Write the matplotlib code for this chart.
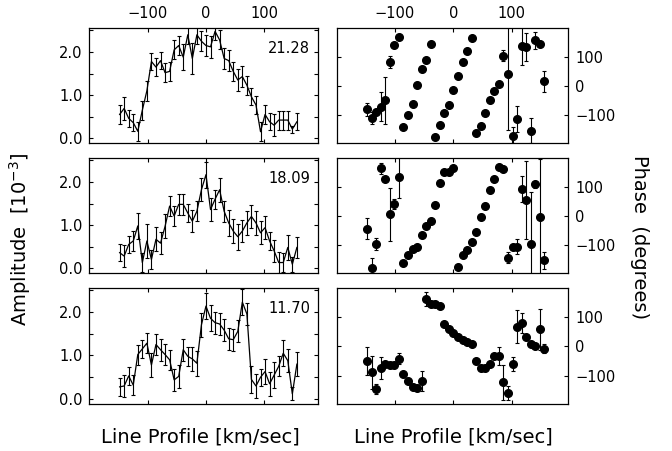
import matplotlib
matplotlib.use("Agg")
import matplotlib.pyplot as plt
from matplotlib.ticker import MultipleLocator, FixedLocator

plt.rcParams['font.family'] = ['DejaVu Sans']

velocity = [-148.0, -140.2, -132.4, -124.6, -116.8, -109.0, -101.2, -93.4, -85.6, -77.8,
            -70.0, -62.2, -54.4, -46.6, -38.8, -31.0, -23.2, -15.4, -7.6, 0.2,
            8.0, 15.8, 23.6, 31.4, 39.2, 47.0, 54.8, 62.6, 70.4, 78.2,
            86.0, 93.8, 101.6, 109.4, 117.2, 125.0, 132.8, 140.6, 148.4, 156.2]

frequencies = ["21.28", "18.09", "11.70"]

amp_2128 = [0.55, 0.69, 0.46, 0.36, 0.16, 0.65, 1.10, 1.78, 1.65, 1.80,
            1.52, 1.55, 2.05, 2.15, 1.88, 2.40, 1.85, 2.40, 2.25, 2.15,
            2.12, 2.48, 2.28, 1.85, 1.80, 1.55, 1.35, 1.43, 1.23, 0.96,
            0.77, 0.15, 0.55, 0.38, 0.30, 0.42, 0.42, 0.42, 0.21, 0.38]
amp_err_2128 = [0.22, 0.26, 0.20, 0.20, 0.22, 0.22, 0.23, 0.20, 0.20, 0.20,
                0.22, 0.22, 0.22, 0.23, 0.30, 0.22, 0.37, 0.22, 0.23, 0.25,
                0.25, 0.20, 0.22, 0.25, 0.25, 0.22, 0.25, 0.25, 0.22, 0.20,
                0.22, 0.22, 0.22, 0.20, 0.25, 0.22, 0.22, 0.22, 0.08, 0.20]

amp_1809 = [0.36, 0.28, 0.55, 0.63, 0.98, 0.13, 0.63, 0.20, 0.67, 0.58,
            0.97, 1.44, 1.21, 1.48, 1.48, 1.28, 1.09, 1.32, 1.82, 2.17,
            1.36, 1.60, 1.82, 1.32, 1.05, 0.86, 0.73, 0.86, 1.05, 1.20,
            1.05, 0.82, 0.94, 0.63, 0.40, 0.13, 0.13, 0.48, 0.09, 0.48]
amp_err_1809 = [0.20, 0.25, 0.20, 0.23, 0.30, 0.22, 0.40, 0.22, 0.28, 0.26,
                0.28, 0.23, 0.23, 0.25, 0.25, 0.21, 0.25, 0.23, 0.27, 0.30,
                0.27, 0.22, 0.28, 0.25, 0.30, 0.28, 0.30, 0.25, 0.28, 0.27,
                0.27, 0.27, 0.27, 0.20, 0.25, 0.25, 0.23, 0.28, 0.17, 0.25]

amp_1170 = [0.28, 0.30, 0.53, 0.32, 1.02, 1.15, 1.28, 0.78, 1.25, 1.13,
            1.02, 0.90, 0.44, 0.52, 1.13, 0.98, 0.92, 0.82, 1.70, 2.13,
            1.85, 1.75, 1.72, 1.58, 1.38, 1.36, 1.55, 2.22, 1.95, 0.45,
            0.30, 0.50, 0.63, 0.35, 0.55, 0.75, 1.05, 0.88, 0.12, 0.80]
amp_err_1170 = [0.20, 0.25, 0.20, 0.23, 0.23, 0.21, 0.23, 0.27, 0.23, 0.25,
                0.24, 0.23, 0.25, 0.26, 0.25, 0.22, 0.27, 0.28, 0.27, 0.30,
                0.30, 0.25, 0.25, 0.25, 0.25, 0.25, 0.25, 0.30, 0.25, 0.30,
                0.27, 0.20, 0.28, 0.27, 0.30, 0.23, 0.30, 0.27, 0.15, 0.27]

phase_2128 = [-79, -110, -88, -71, -48, 84, 143, 171, -139, -99,
              -62, 6, 61, 91, 145, -174, -133, -91, -66, -12,
              35, 84, 120, 165, -161, -138, -91, -47, -17, 7,
              106, 44, -170, -112, 139, 135, -153, 158, 146, 17]
phase_err_2128 = [22, 20, 8, 50, 81, 20, 4, 4, 4, 4,
                  4, 4, 4, 4, 4, 4, 4, 4, 4, 4,
                  4, 4, 4, 4, 4, 4, 4, 4, 4, 4,
                  20, 194, 30, 45, 65, 48, 42, 28, 8, 36]

phase_1809 = [-43, -178, -97, 166, 128, 6, 42, 137, -163, -133,
              -114, -106, -66, -35, -16, 40, 114, 151, 154, 165,
              -175, -133, -115, -89, -55, -1, 37, 90, 128, 171,
              162, -143, -106, -106, 94, 57, -95, 110, -3, -152]
phase_err_1809 = [36, 35, 21, 19, 4, 91, 17, 75, 4, 4,
                  4, 4, 4, 4, 4, 4, 4, 4, 4, 4,
                  4, 4, 4, 4, 8, 10, 10, 8, 4, 4,
                  4, 20, 10, 26, 46, 134, 177, 11, 200, 29]

phase_1170 = [-49, -88, -145, -73, -60, -63, -63, -41, -94, -116,
              -139, -141, -116, 163, 144, 144, 138, 78, 59, 45,
              33, 21, 14, 8, -49, -75, -75, -58, -34, -32,
              -122, -158, -60, 68, 79, 31, 8, 0, 59, -7]
phase_err_1170 = [48, 56, 17, 37, 4, 4, 4, 19, 4, 4,
                  4, 4, 34, 24, 4, 4, 4, 4, 4, 4,
                  4, 4, 4, 4, 4, 4, 4, 4, 4, 31,
                  59, 25, 25, 56, 34, 4, 4, 4, 70, 15]

amps = [amp_2128, amp_1809, amp_1170]
amp_errs = [amp_err_2128, amp_err_1809, amp_err_1170]
phases = [phase_2128, phase_1809, phase_1170]
phase_errs = [phase_err_2128, phase_err_1809, phase_err_1170]

fig = plt.figure(figsize=(6.72, 4.51), dpi=100)

rows = [(0.6822, 0.2550), (0.3940, 0.2550), (0.1035, 0.2585)]
left_x, left_w = 0.1329, 0.3408
right_x, right_w = 0.5010, 0.3446
fs = 10.5

for r, (yb, h) in enumerate(rows):
    axL = fig.add_axes([left_x, yb, left_w, h])
    axL.errorbar(velocity, amps[r], yerr=amp_errs[r], color='black', lw=0.9,
                 elinewidth=0.8, capsize=1.3, capthick=0.8)
    axL.set_xlim(-200, 193)
    axL.set_ylim(-0.12, 2.55)
    axL.xaxis.set_major_locator(FixedLocator([-100, 0, 100]))
    axL.yaxis.set_major_locator(MultipleLocator(1.0))
    axL.yaxis.set_minor_locator(MultipleLocator(0.5))
    axL.yaxis.set_major_formatter(plt.FuncFormatter(lambda v, p: f"{v:.1f}"))
    axL.tick_params(which='both', direction='in', length=3, width=0.8,
                    top=True, right=True, labelsize=fs, pad=5)
    if r == 0:
        axL.tick_params(axis='x', labeltop=True, labelbottom=False)
    else:
        axL.tick_params(axis='x', labeltop=False, labelbottom=False)
    axL.text(0.965, 2.08, frequencies[r], transform=axL.get_yaxis_transform(),
             ha='right', va='center', fontsize=fs)
    for s in axL.spines.values():
        s.set_linewidth(0.9)

    axR = fig.add_axes([right_x, yb, right_w, h])
    axR.errorbar(velocity, phases[r], yerr=phase_errs[r], fmt='o', color='black',
                 ms=5.5, elinewidth=0.8, capsize=1.3, capthick=0.8)
    axR.set_xlim(-200, 197)
    axR.set_ylim(-197, 200)
    axR.xaxis.set_major_locator(FixedLocator([-100, 0, 100]))
    axR.yaxis.set_major_locator(FixedLocator([-100, 0, 100]))
    axR.tick_params(which='both', direction='in', length=3, width=0.8,
                    top=True, right=True, left=True, labelsize=fs, pad=5,
                    labelleft=False, labelright=True)
    if r == 0:
        axR.tick_params(axis='x', labeltop=True, labelbottom=False)
    else:
        axR.tick_params(axis='x', labeltop=False, labelbottom=False)
    for s in axR.spines.values():
        s.set_linewidth(0.9)

fs_lab = 14
fig.text(0.298, 0.031, "Line Profile [km/sec]", ha='center', va='center', fontsize=fs_lab)
fig.text(0.675, 0.031, "Line Profile [km/sec]", ha='center', va='center', fontsize=fs_lab)
fig.text(0.030, 0.47, r"Amplitude  [10$^{-3}$]", ha='center', va='center',
         rotation=90, fontsize=fs_lab)
fig.text(0.952, 0.475, "Phase  (degrees)", ha='center', va='center',
         rotation=270, fontsize=fs_lab)

fig.savefig("out.png", dpi=100)
